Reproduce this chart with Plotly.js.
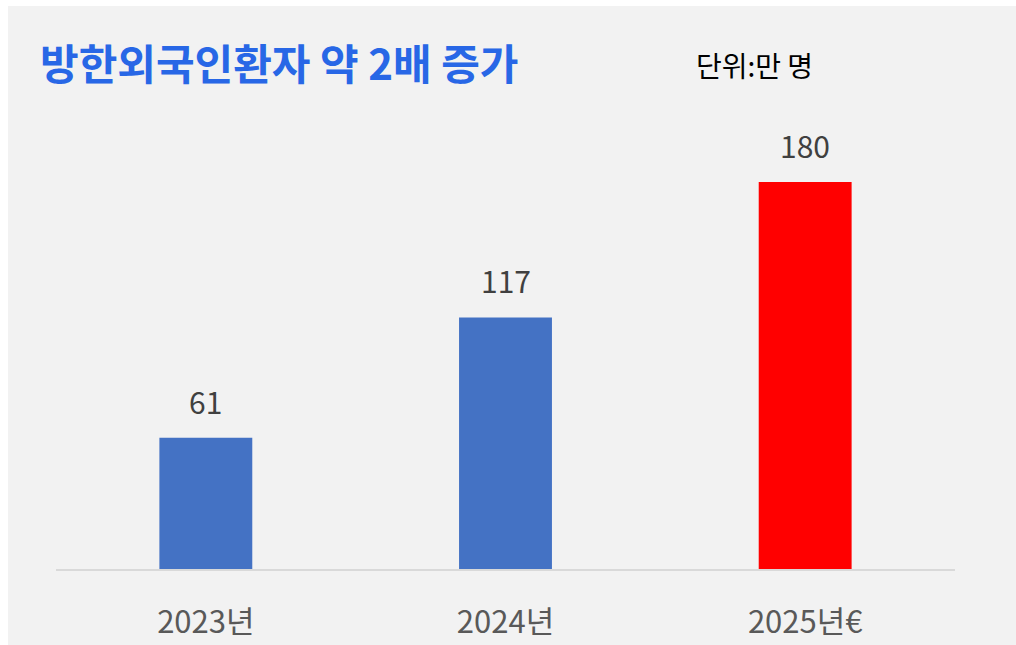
<!DOCTYPE html>
<html>
<head>
<meta charset="utf-8">
<script src="https://cdn.plot.ly/plotly-3.0.1.min.js"></script>
<style>
  html, body { margin: 0; padding: 0; background: #ffffff; }
  #chart { position: absolute; left: 8px; top: 6px; width: 1008px; height: 639px; }
</style>
</head>
<body>
<div id="chart"></div>
<script>
// Data
const categories = ['2023년', '2024년', '2025년€'];
const values = [61, 117, 180];
const barColors = ['#4472c4', '#4472c4', '#ff0000'];
const titleText = '방한외국인환자 약 2배 증가';
const unitText = '단위:만 명';

const FONT = '"Noto Sans CJK KR", "Noto Sans", sans-serif';

const trace = {
  type: 'bar',
  x: categories,
  y: values,
  marker: { color: barColors },
  hoverinfo: 'skip'
};

const valueLabels = categories.map((c, i) => ({
  x: c, y: values[i], xref: 'x', yref: 'y',
  text: String(values[i]),
  showarrow: false, yanchor: 'bottom', yshift: 13,
  font: { family: FONT, size: 30, color: '#404040' }
}));

const layout = {
  width: 1008, height: 639,
  paper_bgcolor: '#f2f2f2', plot_bgcolor: '#f2f2f2',
  margin: { l: 48, r: 61, t: 133, b: 76 },
  bargap: 0.69,
  showlegend: false,
  title: {
    text: '<b>' + titleText + '</b>',
    xref: 'container', yref: 'container',
    x: 32 / 1008, xanchor: 'left',
    y: 1 - 59 / 639, yanchor: 'middle',
    font: { family: FONT, size: 42, color: '#2867e6' }
  },
  xaxis: {
    showline: true, linecolor: '#d9d9d9', linewidth: 2,
    ticks: '', showgrid: false, zeroline: false,
    ticklabelstandoff: 25,
    tickfont: { family: FONT, size: 31, color: '#595959' }
  },
  yaxis: {
    range: [0, 200], visible: false, showgrid: false, zeroline: false
  },
  annotations: valueLabels.concat([{
    xref: 'paper', yref: 'paper',
    x: (686 - 48) / 899, xanchor: 'left',
    y: (563 - 59) / 430, yanchor: 'middle',
    text: unitText, showarrow: false,
    font: { family: FONT, size: 28, color: '#000000' }
  }])
};

Plotly.newPlot('chart', [trace], layout, { displayModeBar: false, staticPlot: true });
</script>
</body>
</html>
